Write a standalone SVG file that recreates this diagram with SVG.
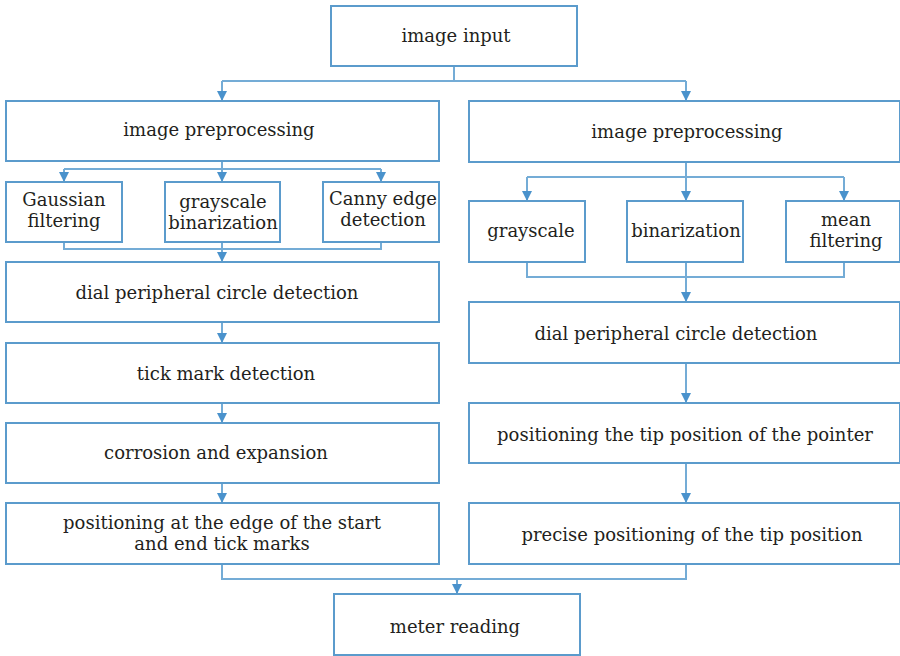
<svg xmlns="http://www.w3.org/2000/svg" width="900" height="656" viewBox="0 0 900 656">
<style>
.box{fill:#fff;stroke:#5b9bcc;stroke-width:2}
.ln{fill:none;stroke:#74acd6;stroke-width:2}
text{font-family:"DejaVu Serif","Liberation Serif",serif;font-size:18px;fill:#231f20;text-anchor:middle}
</style>
<defs>
<marker id="ah" viewBox="0 0 10 10" refX="10" refY="5" markerWidth="10" markerHeight="10" markerUnits="userSpaceOnUse" orient="auto">
<path d="M0,0 L10,5 L0,10 Z" fill="#4a92cc"/>
</marker>
</defs>
<rect width="900" height="656" fill="#fff"/>
<g id="connectors">
<path class="ln" d="M454,66 V81"/>
<path class="ln" d="M222,81 H686"/>
<path class="ln" d="M222,81 V101" marker-end="url(#ah)"/>
<path class="ln" d="M686,81 V101" marker-end="url(#ah)"/>
<path class="ln" d="M222,161 V169 M64,169 H381"/>
<path class="ln" d="M64,169 V182" marker-end="url(#ah)"/>
<path class="ln" d="M222,169 V182" marker-end="url(#ah)"/>
<path class="ln" d="M381,169 V182" marker-end="url(#ah)"/>
<path class="ln" d="M64,242 V249 H381 V242 M222,242 V249"/>
<path class="ln" d="M222,249 V262" marker-end="url(#ah)"/>
<path class="ln" d="M222,322 V343" marker-end="url(#ah)"/>
<path class="ln" d="M222,403 V423" marker-end="url(#ah)"/>
<path class="ln" d="M222,483 V503" marker-end="url(#ah)"/>
<path class="ln" d="M222,564 V579 H686 V564"/>
<path class="ln" d="M457,579 V594" marker-end="url(#ah)"/>
<path class="ln" d="M686,162 V177 M527,177 H844"/>
<path class="ln" d="M527,177 V201" marker-end="url(#ah)"/>
<path class="ln" d="M686,177 V201" marker-end="url(#ah)"/>
<path class="ln" d="M844,177 V201" marker-end="url(#ah)"/>
<path class="ln" d="M527,262 V277 H844 V262 M686,262 V277"/>
<path class="ln" d="M686,277 V302" marker-end="url(#ah)"/>
<path class="ln" d="M686,363 V403" marker-end="url(#ah)"/>
<path class="ln" d="M686,463 V503" marker-end="url(#ah)"/>
</g>
<g id="n-input"><rect class="box" x="331" y="6" width="246" height="60"/><text x="456" y="42">image input</text></g>
<g id="n-pre-l"><rect class="box" x="6" y="101" width="433" height="60"/><text x="219" y="136">image preprocessing</text></g>
<g id="n-pre-r"><rect class="box" x="469" y="101" width="431" height="61"/><text x="687" y="138">image preprocessing</text></g>
<g id="n-gauss"><rect class="box" x="6" y="182" width="116" height="60"/><text x="64" y="206">Gaussian</text><text x="64" y="227">filtering</text></g>
<g id="n-graybin"><rect class="box" x="165" y="182" width="115" height="60"/><text x="223" y="208">grayscale</text><text x="223" y="229">binarization</text></g>
<g id="n-canny"><rect class="box" x="323" y="182" width="116" height="60"/><text x="383" y="205">Canny edge</text><text x="383" y="226">detection</text></g>
<g id="n-gray-r"><rect class="box" x="469" y="201" width="116" height="61"/><text x="531" y="237">grayscale</text></g>
<g id="n-bin-r"><rect class="box" x="627" y="201" width="116" height="61"/><text x="686" y="237">binarization</text></g>
<g id="n-mean-r"><rect class="box" x="786" y="201" width="114" height="61"/><text x="846" y="226">mean</text><text x="846" y="247">filtering</text></g>
<g id="n-dial-l"><rect class="box" x="6" y="262" width="433" height="60"/><text x="217" y="299">dial peripheral circle detection</text></g>
<g id="n-tick"><rect class="box" x="6" y="343" width="433" height="60"/><text x="226" y="380">tick mark detection</text></g>
<g id="n-corr"><rect class="box" x="6" y="423" width="433" height="60"/><text x="216" y="459">corrosion and expansion</text></g>
<g id="n-edge"><rect class="box" x="6" y="503" width="433" height="61"/><text x="222" y="529">positioning at the edge of the start</text><text x="222" y="550">and end tick marks</text></g>
<g id="n-dial-r"><rect class="box" x="469" y="302" width="431" height="61"/><text x="676" y="340">dial peripheral circle detection</text></g>
<g id="n-pointer"><rect class="box" x="469" y="403" width="431" height="60"/><text x="685" y="441">positioning the tip position of the pointer</text></g>
<g id="n-precise"><rect class="box" x="469" y="503" width="431" height="61"/><text x="692" y="541">precise positioning of the tip position</text></g>
<g id="n-meter"><rect class="box" x="334" y="594" width="246" height="61"/><text x="455" y="633">meter reading</text></g>
</svg>
